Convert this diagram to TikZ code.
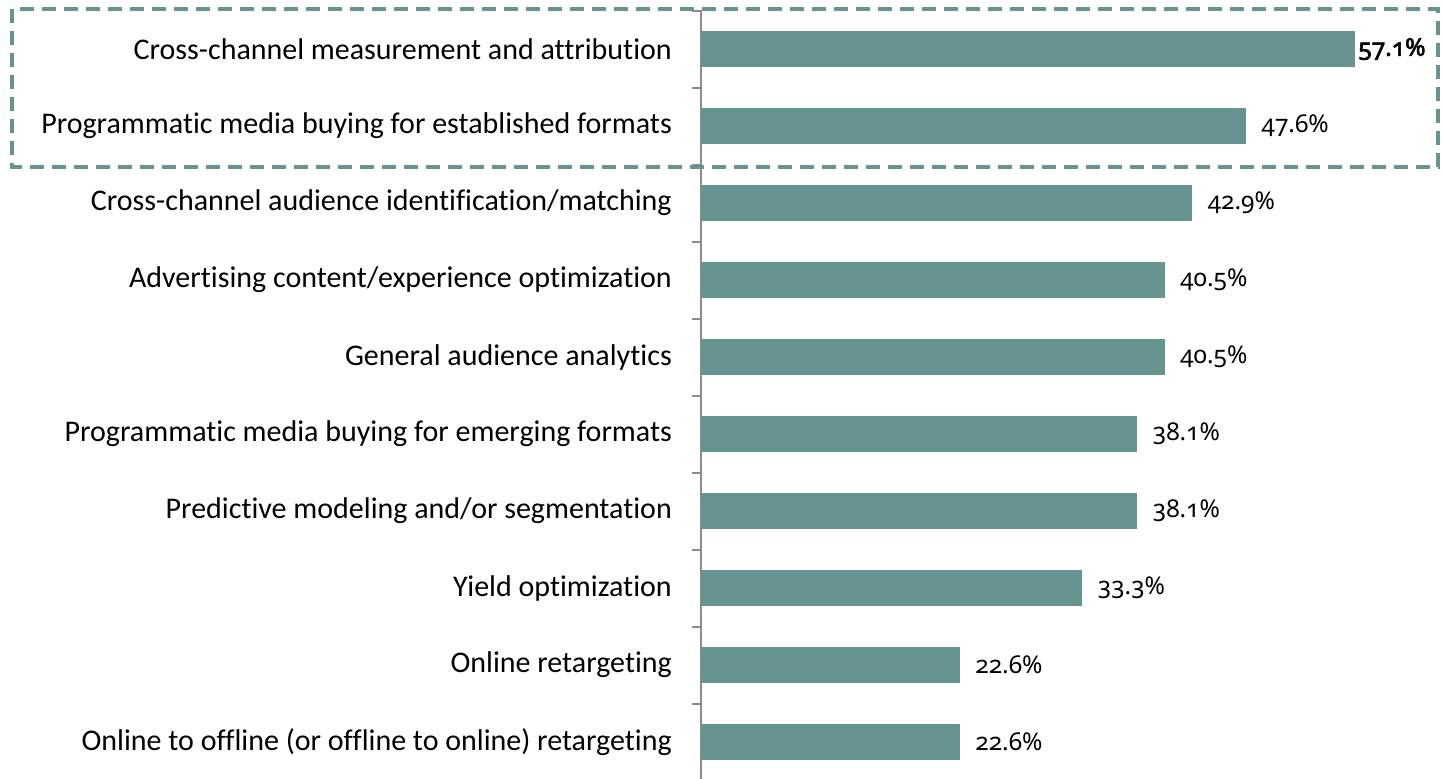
\documentclass[tikz,border=0pt]{standalone}
\usepackage{fontspec}
\setmainfont[Ligatures=NoCommon]{Carlito}
\newfontfamily\valfont[Numbers=OldStyle]{Noto Sans}
\newfontfamily\valboldfont[Numbers=OldStyle, FakeBold=2.5]{Noto Sans}
\usetikzlibrary{positioning}
\definecolor{barteal}{HTML}{669490}
\definecolor{axisgray}{HTML}{8C8C8C}
\tikzset{
  bar/.style={fill=barteal, draw=none, inner sep=0pt, minimum height=36pt, anchor=west},
  catlabel/.style={font=\fontsize{30}{36}\selectfont, inner sep=0pt},
  vallabel/.style={font=\valfont\fontsize{24.5}{29}\selectfont, inner sep=0pt},
}

\begin{document}
\begin{tikzpicture}[x=1pt, y=-1pt]
  \useasboundingbox (0,0) rectangle (1443,779);
  % Axis and ticks
  \draw[axisgray, line width=2pt] (701,10) -- (701,779);
  \foreach \k in {0,...,10}
    \draw[axisgray, line width=2pt] (692,10.5+77*\k) -- (701,10.5+77*\k);
  % Bars with labels
  \foreach \i/\v/\txt in {1/57.1/{Cross-channel measurement and attribution},
      2/47.6/{Programmatic media buying for established formats\ },
      3/42.9/{Cross-channel audience identification/matching},
      4/40.5/{Advertising content/experience optimization},
      5/40.5/{General audience analytics},
      6/38.1/{Programmatic media buying for emerging formats\ },
      7/38.1/{Predictive modeling and/or segmentation},
      8/33.3/{Yield optimization},
      9/22.6/{Online retargeting},
      10/22.6/{Online to offline (or offline to online) retargeting}}{
    \pgfmathsetmacro\w{11.45*\v}
    \node[bar, minimum width=\w pt] (bar\i) at (701,49+77*\i-77) {};
    \node[catlabel, left=29pt of bar\i] (cat\i) {\txt};
    \ifnum\i=1
      \node[vallabel, right=3pt of bar\i] (val\i) {\valboldfont\v\%};
    \else
      \node[vallabel, right=15pt of bar\i] (val\i) {\v\%};
    \fi
  }
  % Highlight box
  \draw[barteal, line width=4pt, dash pattern=on 14pt off 8pt] (12,9) rectangle (1438,167);
\end{tikzpicture}
\end{document}
